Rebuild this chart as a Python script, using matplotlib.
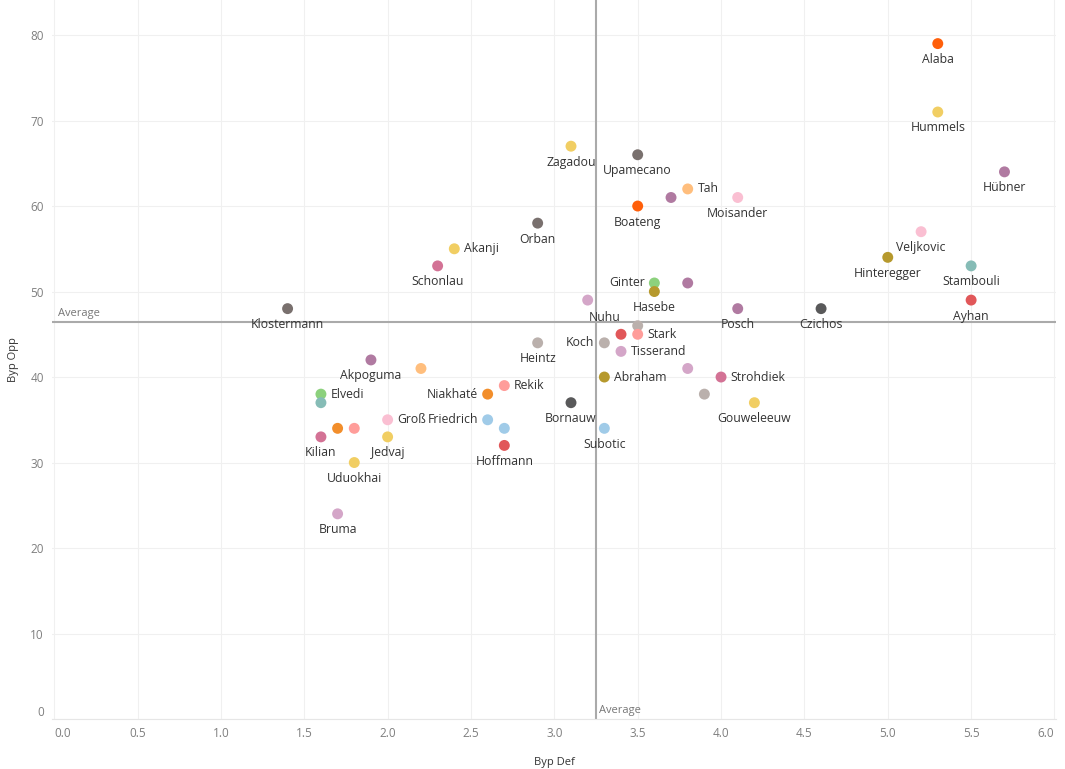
import matplotlib.pyplot as plt

plt.rcParams['font.family'] = ['Open Sans', 'DejaVu Sans']

# player data
names = ['Alaba', 'Hummels', 'Hübner', 'Moisander', 'Veljkovic', 'Hinteregger',
         'Stambouli', 'Ayhan', 'Czichos', 'Posch', 'Zagadou', 'Upamecano', 'Tah',
         'Boateng', '', 'Orban', 'Akanji', 'Schonlau', 'Klostermann', 'Ginter',
         'Hasebe', '', 'Nuhu', '', 'Stark', '', 'Koch', 'Heintz', 'Tisserand',
         'Akpoguma', '', '', 'Abraham', 'Strohdiek', '', 'Elvedi', '', 'Niakhaté',
         'Rekik', 'Bornauw', 'Gouweleeuw', 'Groß', 'Friedrich', '', 'Subotic',
         '', '', 'Kilian', 'Jedvaj', 'Hoffmann', 'Uduokhai', 'Bruma']
byp_def = [5.3, 5.3, 5.7, 4.1, 5.2, 5.0,
           5.5, 5.5, 4.6, 4.1, 3.1, 3.5, 3.8,
           3.5, 3.7, 2.9, 2.4, 2.3, 1.4, 3.6,
           3.6, 3.8, 3.2, 3.5, 3.5, 3.4, 3.3, 2.9, 3.4,
           1.9, 2.2, 3.8, 3.3, 4.0, 3.9, 1.6, 1.6, 2.6,
           2.7, 3.1, 4.2, 2.0, 2.6, 2.7, 3.3,
           1.7, 1.8, 1.6, 2.0, 2.7, 1.8, 1.7]
byp_opp = [79, 71, 64, 61, 57, 54,
           53, 49, 48, 48, 67, 66, 62,
           60, 61, 58, 55, 53, 48, 51,
           50, 51, 49, 46, 45, 45, 44, 44, 43,
           42, 41, 41, 40, 40, 38, 38, 37, 38,
           39, 37, 37, 35, 35, 34, 34,
           34, 34, 33, 33, 32, 30, 24]

avg_def = 3.25
avg_opp = 46.4

# colours and label side for each point (b = below, r = right, l = left)
colors = ['#FF5F0A', '#F1CE63', '#B07AA1', '#FABFD2', '#FABFD2', '#B6992D',
          '#86BCB6', '#E15759', '#59595A', '#B07AA1', '#F1CE63', '#79706E', '#FFBE7D',
          '#FF5F0A', '#B07AA1', '#79706E', '#F1CE63', '#D37295', '#79706E', '#8CD17D',
          '#B6992D', '#B07AA1', '#D4A6C8', '#BAB0AC', '#FF9D9A', '#E15759', '#BAB0AC',
          '#BAB0AC', '#D4A6C8',
          '#B07AA1', '#FFBE7D', '#D4A6C8', '#B6992D', '#D37295', '#BAB0AC', '#8CD17D',
          '#86BCB6', '#F28E2B',
          '#FF9D9A', '#59595A', '#F1CE63', '#FABFD2', '#A0CBE8', '#A0CBE8', '#A0CBE8',
          '#F28E2B', '#FF9D9A', '#D37295', '#F1CE63', '#E15759', '#F1CE63', '#D4A6C8']
sides = ['b', 'b', 'b', 'b', 'b', 'b',
         'b', 'b', 'b', 'b', 'b', 'b', 'r',
         'b', '', 'b', 'r', 'b', 'b', 'l',
         'b', '', 'n', '', 'r', '', 'l', 'b', 'r',
         'b', '', '', 'r', 'r', '', 'r', '', 'l',
         'r', 'b', 'b', 'r', 'l', '', 'b',
         '', '', 'b', 'b', 'b', 'b', 'b']

fig = plt.figure(figsize=(10.65, 7.69), dpi=100)
ax = fig.add_axes([0.049, 0.065, 0.943, 0.935])

ax.scatter(byp_def, byp_opp, s=62, c=colors, edgecolors='none', zorder=3)

offsets = {'b': (0, -11.5, 'center', 'center'),
           'r': (7, 0, 'left', 'center'),
           'l': (-7, 0, 'right', 'center'),
           'n': (12, -12.5, 'center', 'center')}
for n, x, y, sd in zip(names, byp_def, byp_opp, sides):
    if not n:
        continue
    dx, dy, ha, va = offsets[sd]
    ax.annotate(n, (x, y), xytext=(dx, dy), textcoords='offset points',
                ha=ha, va=va, fontsize=8.8, color='#333333', zorder=4)

# average reference lines
ax.axvline(avg_def, color='#aaaaaa', lw=1.5, zorder=2)
ax.axhline(avg_opp, color='#aaaaaa', lw=1.5, zorder=2)
ax.text(0.02, avg_opp + 0.4, 'Average', fontsize=8, color='#777777',
        ha='left', va='bottom')
ax.text(avg_def + 0.02, 0.4, 'Average', fontsize=8, color='#777777',
        ha='left', va='bottom')

ax.set_xlim(-0.012, 6.012)
ax.set_ylim(0, 84.1)
ax.set_xticks([i * 0.5 for i in range(13)])
ax.set_xticklabels(['%.1f' % (i * 0.5) for i in range(13)])
ax.set_yticks(range(0, 90, 10))
ax.grid(True, color='#f0f0f0', lw=0.8, zorder=0)
for s in ['top', 'right', 'left']:
    ax.spines[s].set_visible(False)
ax.spines['bottom'].set_color('#e6e6e6')
ax.tick_params(axis='both', length=0, labelsize=8.5, colors='#7f7f7f', pad=6)
# keep the end labels inside the plot like the original
xl = ax.get_xticklabels()
xl[0].set_ha('left')
xl[-1].set_ha('right')
ax.get_yticklabels()[0].set_va('bottom')
ax.set_xlabel('Byp Def', fontsize=8, color='#333333', labelpad=12)
ax.set_ylabel('Byp Opp', fontsize=8, color='#333333', labelpad=8)

fig.savefig('out.png', dpi=100)
